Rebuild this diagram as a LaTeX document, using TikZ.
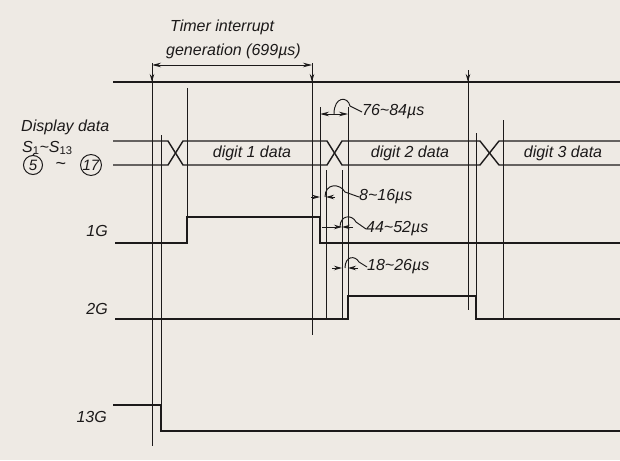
\documentclass[tikz,border=0pt]{standalone}
\usepackage{fontspec}
\setmainfont{Liberation Sans}
\usetikzlibrary{arrows.meta}
\definecolor{paper}{RGB}{238,234,228}
\definecolor{ink}{RGB}{28,26,26}
\begin{document}
\begin{tikzpicture}[x=1pt,y=-1pt,
  sig/.style={draw=ink,line width=1.4pt,line join=miter},
  vline/.style={draw=ink,line width=0.95pt},
  lbl/.style={font=\fontsize{16}{18}\selectfont\itshape,text=ink,inner sep=0pt},
  dimline/.style={draw=ink,line width=0.95pt,{Stealth[length=9pt,width=4.5pt]}-{Stealth[length=9pt,width=4.5pt]}},
  onearrow/.style={draw=ink,line width=0.95pt,-{Stealth[length=8pt,width=4.5pt]}},
  leader/.style={draw=ink,line width=0.95pt},
  circnum/.style={draw=ink,circle,line width=1pt,inner sep=0.5pt,minimum size=19pt,font=\fontsize{15}{17}\selectfont\itshape,text=ink}]
\fill[paper] (0,0) rectangle (620,460);
\useasboundingbox (0,0) rectangle (620,460);

% ---- labels
\node[lbl,anchor=west] (t1) at (170,27) {Timer interrupt};
\node[lbl,anchor=west] (t2) at (166,51) {generation (699µs)};
\node[lbl,anchor=west] (dd) at (21,127) {Display data};
\node[lbl,anchor=west] (ss) at (22,148) {S\textsubscript{\normalfont 1}\textasciitilde S\textsubscript{\normalfont 13}};
\node[circnum] (c5) at (33,165) {5};
\node[lbl,font=\fontsize{18}{18}\selectfont] (tl) at (61,166) {\textasciitilde};
\node[circnum,minimum size=20pt] (c17) at (91,165) {17};
\node[lbl,anchor=east] (g1) at (108,231) {1G};
\node[lbl,anchor=east] (g2) at (108,309) {2G};
\node[lbl,anchor=east] (g13) at (107,417) {13G};
\node[lbl] (d1) at (252,153) {digit 1 data};
\node[lbl] (d2) at (410,153) {digit 2 data};
\node[lbl] (d3) at (563,153) {digit 3 data};
\node[lbl,anchor=west] (m1) at (362,112) {76\textasciitilde 84µs};
\node[lbl,anchor=west] (m2) at (359,197) {8\textasciitilde 16µs};
\node[lbl,anchor=west] (m3) at (366,229) {44\textasciitilde 52µs};
\node[lbl,anchor=west] (m4) at (367,267) {18\textasciitilde 26µs};
\draw[vline] (35,153) -- (c5.north);

% ---- thin vertical guide lines
\draw[vline] (152,63) -- (152,446);
\draw[vline] (161,135) -- (161,405);
\draw[vline] (187,88) -- (187,217);
\draw[vline] (312,63) -- (312,335);
\draw[vline] (320,107) -- (320,217);
\draw[vline] (326,170) -- (326,319);
\draw[vline] (342,170) -- (342,319);
\draw[vline] (348,107) -- (348,296);
\draw[vline] (468,70) -- (468,310);
\draw[vline] (476,133) -- (476,296);
\draw[vline] (503,120) -- (503,319);

% ---- interrupt markers
\draw[onearrow] (152,71) -- (152,82);
\draw[onearrow] (312,71) -- (312,82);
\draw[onearrow] (468,71) -- (468,82);

% ---- signals
\draw[sig] (113,82) -- (620,82);
\draw[sig] (113,141) -- (168,141) -- (183,165) -- (327,165) -- (342,141) -- (480,141) -- (499,165) -- (620,165);
\draw[sig] (113,165) -- (168,165) -- (183,141) -- (327,141) -- (342,165) -- (480,165) -- (499,141) -- (620,141);
\draw[sig] (115,243) -- (187,243) -- (187,217) -- (320,217) -- (320,243) -- (620,243);
\draw[sig] (115,319) -- (348,319) -- (348,296) -- (476,296) -- (476,319) -- (620,319);
\draw[sig] (113,405) -- (161,405) -- (161,431) -- (620,431);

% ---- dimensions
\draw[dimline] (152,65) -- (312,65);
\draw[dimline] (320,114) -- (348,114);
\draw[onearrow] (311,197) -- (320,197);
\draw[onearrow] (335,197) -- (326,197);
\draw[onearrow] (322,227) -- (342,227);
\draw[onearrow] (353,227) -- (342,227);
\draw[onearrow] (332,268) -- (342,268);
\draw[onearrow] (358,268) -- (348,268);

% ---- leaders
\draw[leader] (334,114) .. controls (334,96) and (348,96) .. (350,106) -- (m1.west);
\draw[leader] (325,197) .. controls (325,183) and (340,183) .. (345,192) -- (m2.west);
\draw[leader] (340,227) .. controls (340,215) and (352,214) .. (356,222) -- (m3.west);
\draw[leader] (345,268) .. controls (345,256) and (355,255) .. (359,262) -- (m4.west);
\end{tikzpicture}
\end{document}
